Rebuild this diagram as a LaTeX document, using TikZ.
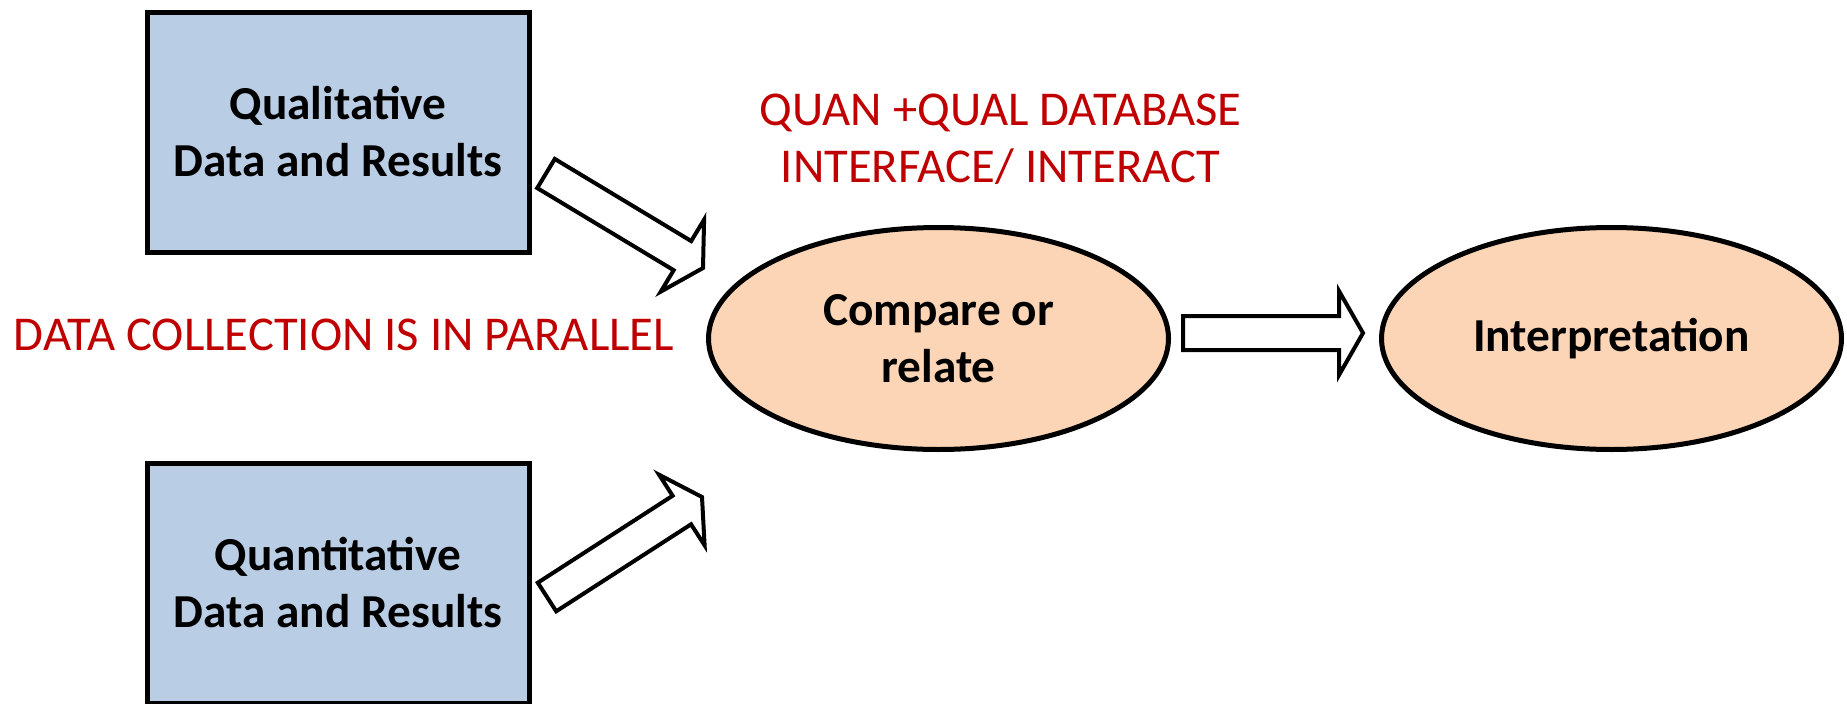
\documentclass[tikz,border=0pt]{standalone}
\usepackage{fontspec}
\setmainfont{Carlito}
\usetikzlibrary{calc,shapes.geometric}
\definecolor{boxblue}{HTML}{B9CDE5}
\definecolor{peach}{HTML}{FBD5B5}
\definecolor{darkred}{HTML}{C00000}

\begin{document}
\begin{tikzpicture}[x=1pt,y=-1pt]
\tikzstyle{databox}=[draw=black,line width=5pt,fill=boxblue,minimum width=382pt,minimum height=240pt,align=center,font=\fontsize{47.3}{57}\selectfont\bfseries]
\tikzstyle{stage}=[draw=black,line width=5pt,fill=peach,ellipse,minimum width=460pt,minimum height=222pt,inner sep=0pt,align=center,font=\fontsize{47.3}{57}\selectfont\bfseries]
\tikzstyle{note}=[text=darkred,align=center,font=\fontsize{48.6}{57}\selectfont]
\tikzstyle{blockarrow}=[draw=black,fill=white,line width=4pt,line join=miter]
\useasboundingbox (0,0) rectangle (1847,704);
\node[databox] (qual) at (338,132) {Qualitative\\Data and Results};
\node[databox] (quan) at (338,583) {Quantitative\\Data and Results};
\node[stage] (compare) at (938.5,338.5) {Compare or\\relate};
\node[stage] (interp) at (1611.5,338.5) {Interpretation};
\node[note] (quanqual) at (1000.5,139.5) {QUAN +QUAL DATABASE\\INTERFACE/ INTERACT};
\node[note] (parallel) at (344,334.5) {DATA COLLECTION IS IN PARALLEL};
% tails and tips of the block arrows
\coordinate (T1) at (546,173.5);
\coordinate (H1) at (703,268);
\coordinate (T2) at (547,597);
\coordinate (H2) at (702,497);
\coordinate (T3) at (1183,333);
\coordinate (H3) at (1363,333);
\foreach \t/\h in {T1/H1,T2/H2,T3/H3}{
  \coordinate (C) at ($(\h)!24pt!(\t)$);
  \draw[blockarrow] ($(\t)!17pt!90:(\h)$) -- ($(C)!17pt!-90:(\t)$) -- ($(C)!42pt!-90:(\t)$) -- (\h)
    -- ($(C)!42pt!90:(\t)$) -- ($(C)!17pt!90:(\t)$) -- ($(\t)!17pt!-90:(\h)$) -- cycle;
}
\end{tikzpicture}
\end{document}
